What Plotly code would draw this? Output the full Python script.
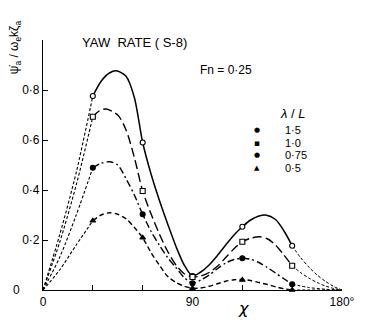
import plotly.graph_objects as go

# ---------------- data ----------------
marker_chi = [30, 60, 90, 120, 150]

# lambda/L = 1.5
chi_main_15 = [30, 35, 40, 44, 50, 55, 60, 65, 70, 75, 80, 85, 90, 95, 100, 105, 110, 115, 120, 125, 130, 134, 140, 145, 150]
val_main_15 = [0.776, 0.835, 0.868, 0.877, 0.855, 0.77, 0.59, 0.465, 0.36, 0.265, 0.175, 0.1, 0.056, 0.072, 0.10, 0.138, 0.18, 0.22, 0.253, 0.28, 0.296, 0.30, 0.282, 0.237, 0.177]
chi_lead_15 = [0, 10, 20, 30]
val_lead_15 = [0.0, 0.22, 0.47, 0.776]
chi_tail_15 = [150, 155, 160, 165, 170, 175, 180]
val_tail_15 = [0.177, 0.13, 0.092, 0.06, 0.035, 0.014, 0.0]
mark_15 = [0.776, 0.59, 0.056, 0.253, 0.177]

# lambda/L = 1.0
chi_main_10 = [30, 34, 38, 45, 50, 55, 60, 65, 70, 75, 80, 85, 90, 95, 100, 105, 110, 115, 120, 125, 130, 135, 140, 145, 150]
val_main_10 = [0.693, 0.717, 0.724, 0.70, 0.64, 0.53, 0.396, 0.305, 0.225, 0.155, 0.10, 0.065, 0.052, 0.056, 0.07, 0.095, 0.13, 0.165, 0.193, 0.207, 0.213, 0.205, 0.18, 0.14, 0.097]
chi_lead_10 = [0, 10, 20, 30]
val_lead_10 = [0.0, 0.19, 0.42, 0.693]
chi_tail_10 = [150, 155, 160, 165, 170, 175, 180]
val_tail_10 = [0.097, 0.07, 0.048, 0.03, 0.016, 0.006, 0.0]
mark_10 = [0.693, 0.396, 0.052, 0.193, 0.097]

# lambda/L = 0.75
chi_main_075 = [30, 35, 40, 45, 50, 55, 60, 65, 70, 75, 80, 85, 90, 95, 100, 105, 110, 115, 120, 125, 130, 135, 140, 145, 150]
val_main_075 = [0.489, 0.507, 0.513, 0.50, 0.445, 0.38, 0.303, 0.235, 0.18, 0.13, 0.09, 0.05, 0.027, 0.04, 0.06, 0.085, 0.108, 0.122, 0.127, 0.123, 0.11, 0.09, 0.068, 0.045, 0.023]
chi_lead_075 = [0, 10, 20, 30]
val_lead_075 = [0.0, 0.13, 0.30, 0.489]
chi_tail_075 = [150, 160, 170, 180]
val_tail_075 = [0.023, 0.01, 0.003, 0.0]
mark_075 = [0.489, 0.303, 0.027, 0.127, 0.023]

# lambda/L = 0.5
chi_main_05 = [30, 35, 40, 45, 50, 55, 60, 65, 70, 75, 80, 85, 90, 95, 100, 105, 110, 115, 120, 125, 130, 135, 140, 145, 150]
val_main_05 = [0.277, 0.30, 0.309, 0.303, 0.285, 0.25, 0.209, 0.15, 0.10, 0.055, 0.03, 0.015, 0.007, 0.008, 0.015, 0.025, 0.035, 0.041, 0.042, 0.038, 0.03, 0.022, 0.013, 0.005, 0.0]
chi_lead_05 = [0, 10, 20, 30]
val_lead_05 = [0.0, 0.08, 0.18, 0.277]
chi_tail_05 = [150, 180]
val_tail_05 = [0.0, 0.0]
mark_05 = [0.277, 0.209, 0.007, 0.04, 0.0]

legend_labels = ["1·5", "1·0", "0·75", "0·5"]
legend_glyphs = ["●", "▪", "●", "▲"]

x_tickvals = [0, 90, 180]
x_ticktext = ["0", "90", "180°"]
y_tickvals = [0.2, 0.4, 0.6, 0.8]
y_ticktext = ["0·2", "0·4", "0·6", "0·8"]

# ---------------- figure ----------------
W, H = 367, 322
L, R, T, B = 43, 23, 40, 32
PW, PH = W - L - R, H - T - B


def px(x):
    return (x - L) / PW


def py(y):
    return (H - B - y) / PH


FONT = "Liberation Sans"
fig = go.Figure()

series = [
    (chi_main_15, val_main_15, chi_lead_15, val_lead_15, chi_tail_15, val_tail_15, mark_15,
     "solid", 1.5, "circle", "white"),
    (chi_main_10, val_main_10, chi_lead_10, val_lead_10, chi_tail_10, val_tail_10, mark_10,
     "9px,4px", 1.4, "square", "white"),
    (chi_main_075, val_main_075, chi_lead_075, val_lead_075, chi_tail_075, val_tail_075, mark_075,
     "7px,3px,2px,3px", 1.4, "circle", "black"),
    (chi_main_05, val_main_05, chi_lead_05, val_lead_05, chi_tail_05, val_tail_05, mark_05,
     "5px,3px", 1.4, "triangle-up", "black"),
]

for (cm, vm, cl, vl, ct, vt, mk, dash, lw, sym, fill) in series:
    fig.add_trace(go.Scatter(x=cl, y=vl, mode="lines",
                             line=dict(color="black", width=1.1, dash="3px,2px", shape="spline", smoothing=0.8),
                             showlegend=False, hoverinfo="skip", cliponaxis=False))
    fig.add_trace(go.Scatter(x=ct, y=vt, mode="lines",
                             line=dict(color="black", width=1.0, dash="3px,2px", shape="spline", smoothing=0.8),
                             showlegend=False, hoverinfo="skip", cliponaxis=False))
    fig.add_trace(go.Scatter(x=cm, y=vm, mode="lines",
                             line=dict(color="black", width=lw, dash=dash, shape="spline", smoothing=0.8),
                             showlegend=False, hoverinfo="skip", cliponaxis=False))
    fig.add_trace(go.Scatter(x=marker_chi, y=mk, mode="markers",
                             marker=dict(symbol=sym, size=5, color=fill, line=dict(width=1.1, color="black")),
                             showlegend=False, hoverinfo="skip", cliponaxis=False))

ann = []
ann.append(dict(text="YAW  RATE ( S-8)", x=px(135.5), y=py(42), font=dict(size=13, family=FONT)))
ann.append(dict(text="Fn = 0·25", x=px(227), y=py(70), font=dict(size=12, family=FONT)))
ann.append(dict(text="<i>λ</i> / <i>L</i>", x=px(294), y=py(113), font=dict(size=13, family=FONT)))
for i, (g, lab) in enumerate(zip(legend_glyphs, legend_labels)):
    yy = 130 + i * 12.7
    ann.append(dict(text=g, x=px(258), y=py(yy), font=dict(size=7 if g != "▪" else 9, family="DejaVu Sans")))
    ann.append(dict(text=lab, x=px(285), y=py(yy), xanchor="left", font=dict(size=11, family=FONT)))
ann.append(dict(text="ψ̇<sub>a</sub> / ω<sub>e</sub>kζ<sub>a</sub>", x=px(15), y=py(47), textangle=-90,
                font=dict(size=12, family=FONT)))
ann.append(dict(text="<i>χ</i>", x=px(245), y=py(308), font=dict(size=16, family="DejaVu Sans")))
ann.append(dict(text="0", x=px(16), y=py(290), font=dict(size=12, family=FONT)))
for a in ann:
    a.setdefault("xanchor", "center")
    a["font"]["color"] = "black"
    a.update(xref="paper", yref="paper", showarrow=False, yanchor="middle")

fig.update_layout(
    width=W, height=H, margin=dict(l=L, r=R, t=T, b=B),
    paper_bgcolor="white", plot_bgcolor="white",
    font=dict(color="black", family=FONT),
    annotations=ann,
    xaxis=dict(range=[0, 180], showgrid=False, zeroline=False, showline=True, linecolor="black", linewidth=1.2,
               ticks="inside", ticklen=5, tickcolor="black", tickwidth=1, tickvals=x_tickvals, ticktext=x_ticktext,
               tickfont=dict(size=12, family=FONT, color="black"),
               minor=dict(ticks="inside", ticklen=5, tickcolor="black", tickwidth=1, tick0=0, dtick=30,
                          showgrid=False)),
    yaxis=dict(range=[0, 1.0], showgrid=False, zeroline=False, showline=True, linecolor="black", linewidth=1.2,
               ticks="inside", ticklen=5, tickcolor="black", tickwidth=1, tickvals=y_tickvals, ticktext=y_ticktext,
               tickfont=dict(size=12, family=FONT, color="black"),
               minor=dict(ticks="inside", ticklen=5, tickcolor="black", tickwidth=1, tick0=0, dtick=0.2,
                          showgrid=False)),
)

fig.write_html("out.html")
